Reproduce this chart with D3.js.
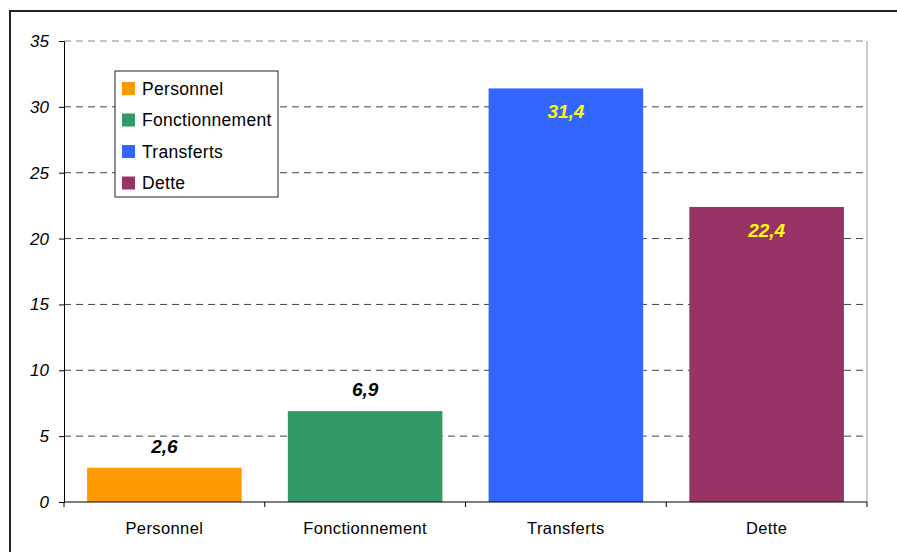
<!DOCTYPE html>
<html><head><meta charset="utf-8">
<script src="https://cdnjs.cloudflare.com/ajax/libs/d3/7.8.5/d3.min.js"></script>
<style>
html,body{margin:0;padding:0;background:#fff;}
svg{display:block;font-family:"Liberation Sans",Arial,sans-serif;}
</style></head>
<body>
<svg id="chart" width="897" height="552"></svg>
<script>
const categories = ["Personnel", "Fonctionnement", "Transferts", "Dette"];
const values = [2.6, 6.9, 31.4, 22.4];
const labels = ["2,6", "6,9", "31,4", "22,4"];
const colors = ["#FF9900", "#339966", "#3366FF", "#993366"];
const yTicks = [0, 5, 10, 15, 20, 25, 30, 35];

const svg = d3.select("#chart");
const m = {left: 64, right: 867, top: 41, bottom: 502};

// outer border
svg.append("rect").attr("x", 10).attr("y", 11).attr("width", 900).attr("height", 600)
  .attr("fill", "none").attr("stroke", "#222").attr("stroke-width", 2);

const x = d3.scaleBand().domain(categories).range([m.left, m.right]).paddingInner(0.23).paddingOuter(0.115);
const xb = d3.scaleBand().domain(categories).range([m.left, m.right]);
const y = d3.scaleLinear().domain([0, 35]).range([m.bottom, m.top]);

// gridlines
svg.append("g").selectAll("line").data(yTicks.filter(d => d > 0)).join("line")
  .attr("x1", m.left).attr("x2", m.right)
  .attr("y1", d => y(d)).attr("y2", d => y(d))
  .attr("stroke", d => d === 35 ? "#888" : "#444").attr("stroke-width", 1)
  .attr("stroke-dasharray", "7,5");

// right border of plot
svg.append("line").attr("x1", m.right).attr("x2", m.right).attr("y1", m.top).attr("y2", m.bottom)
  .attr("stroke", "#999");

// bars
svg.append("g").selectAll("rect").data(categories).join("rect")
  .attr("x", d => x(d)).attr("width", x.bandwidth())
  .attr("y", (d, i) => y(values[i])).attr("height", (d, i) => y(0) - y(values[i]))
  .attr("fill", (d, i) => colors[i]);

// y axis
const ya = svg.append("g").attr("transform", `translate(${m.left},0)`)
  .call(d3.axisLeft(y).tickValues(yTicks).tickSize(5).tickPadding(10).tickFormat(d3.format("d")));
ya.select(".domain").attr("stroke", "#000");
ya.selectAll(".tick line").attr("stroke", "#000");
ya.selectAll("text").attr("font-size", 17).attr("font-style", "italic").attr("fill", "#000")
  .attr("font-family", "Liberation Sans, Arial, sans-serif");

// x axis
const xa = svg.append("g").attr("transform", `translate(0,${m.bottom})`);
xa.append("line").attr("x1", m.left).attr("x2", m.right).attr("stroke", "#000");
const bounds = categories.map(c => xb(c)).concat([m.right]);
xa.selectAll("line.t").data(bounds).join("line").attr("class", "t")
  .attr("x1", d => d).attr("x2", d => d).attr("y1", 0).attr("y2", 5).attr("stroke", "#000");
xa.selectAll("text").data(categories).join("text")
  .attr("x", d => xb(d) + xb.bandwidth() / 2).attr("y", 32)
  .attr("text-anchor", "middle").attr("font-size", 16.5).attr("letter-spacing", 0.4)
  .attr("fill", "#000").text(d => d);

// value labels
svg.append("g").selectAll("text").data(categories).join("text")
  .attr("x", d => x(d) + x.bandwidth() / 2)
  .attr("y", (d, i) => values[i] > 15 ? y(values[i]) + 30 : y(values[i]) - 15)
  .attr("text-anchor", "middle").attr("font-size", 19).attr("font-weight", "bold").attr("font-style", "italic")
  .attr("fill", (d, i) => values[i] > 15 ? "#FFFF00" : "#000")
  .text((d, i) => labels[i]);

// legend
const lg = svg.append("g").attr("transform", "translate(115,71)");
lg.append("rect").attr("width", 163).attr("height", 126).attr("fill", "#fff").attr("stroke", "#222");
const items = lg.selectAll("g").data(categories).join("g")
  .attr("transform", (d, i) => `translate(7,${17 + i * 31.5})`);
items.append("rect").attr("x", 0).attr("y", -6).attr("width", 13).attr("height", 13)
  .attr("fill", (d, i) => colors[i]);
items.append("text").attr("x", 20).attr("y", 6.5).attr("font-size", 17.5).attr("letter-spacing", 0.3)
  .attr("fill", "#000").text(d => d);
</script>
</body></html>
